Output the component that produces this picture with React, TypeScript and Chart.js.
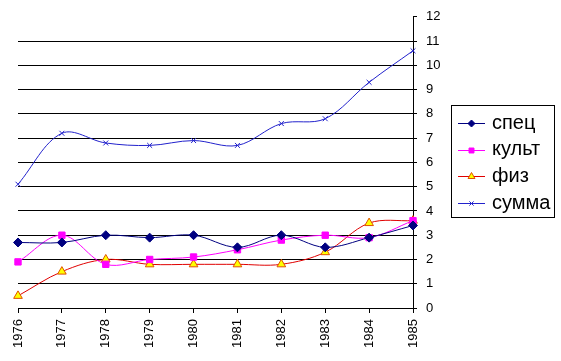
import React, { useEffect, useRef } from "react";
import { Chart, registerables } from "chart.js";
import { drawPoint } from "chart.js/helpers";

Chart.register(...registerables);

const years = ["1976", "1977", "1978", "1979", "1980", "1981", "1982", "1983", "1984", "1985"];
const spec = [2.7, 2.7, 3.0, 2.9, 3.0, 2.5, 3.0, 2.5, 2.9, 3.4];
const kult = [1.9, 3.0, 1.8, 2.0, 2.1, 2.4, 2.8, 3.0, 2.9, 3.6];
const fiz = [0.5, 1.5, 2.0, 1.8, 1.8, 1.8, 1.8, 2.3, 3.5, 3.6];
const summa = [5.1, 7.2, 6.8, 6.7, 6.9, 6.7, 7.6, 7.8, 9.3, 10.6];
const seriesNames = ["спец", "культ", "физ", "сумма"];

const FONT = "Arial, 'Liberation Sans', sans-serif";

const legendPlugin = {
  id: "boxLegend",
  afterDraw(chart: any) {
    const ctx = chart.ctx;
    ctx.save();
    ctx.strokeStyle = "#000";
    ctx.lineWidth = 1;
    ctx.strokeRect(451.5, 105.5, 103, 112);
    chart.data.datasets.forEach((ds: any, i: number) => {
      const y = 123 + i * 26.7;
      ctx.strokeStyle = ds.borderColor;
      ctx.lineWidth = 1;
      ctx.beginPath();
      ctx.moveTo(458, Math.round(y) + 0.5);
      ctx.lineTo(485, Math.round(y) + 0.5);
      ctx.stroke();
      ctx.fillStyle = ds.pointBackgroundColor;
      ctx.strokeStyle = ds.pointBorderColor;
      drawPoint(ctx, { pointStyle: ds.pointStyle, radius: ds.legendRadius, rotation: 0, borderWidth: 1 } as any, 471.5, Math.round(y) + 0.5);
      ctx.fillStyle = "#000";
      ctx.font = `20px ${FONT}`;
      ctx.textBaseline = "middle";
      ctx.textAlign = "left";
      ctx.fillText(ds.label, 492, y);
    });
    ctx.restore();
  },
};

export default function App() {
  const ref = useRef<HTMLCanvasElement>(null);
  useEffect(() => {
    if (!ref.current) return;
    const mk = (label: string, data: number[], line: string, fill: string, border: string, style: string, r: number, lr: number) => ({
      label,
      data,
      borderColor: line,
      backgroundColor: fill,
      pointBackgroundColor: fill,
      pointBorderColor: border,
      pointStyle: style,
      pointRadius: r,
      pointBorderWidth: 1,
      borderWidth: 1,
      tension: 0.35,
      legendRadius: lr,
    });
    const chart = new Chart(ref.current, {
      type: "line",
      data: {
        labels: years,
        datasets: [
          mk(seriesNames[0], spec, "#000080", "#000080", "#000080", "rectRot", 4.5, 3.5),
          mk(seriesNames[1], kult, "#FF00FF", "#FF00FF", "#FF00FF", "rect", 4.5, 3.5),
          mk(seriesNames[2], fiz, "#E00000", "#FFFF00", "#E05000", "triangle", 5, 4),
          mk(seriesNames[3], summa, "#2222CC", "#2222CC", "#2222CC", "crossRot", 3.5, 3),
        ] as any,
      },
      options: {
        responsive: false,
        animation: false,
        layout: { padding: { left: 18, top: 15, right: 0, bottom: 0 } },
        plugins: { legend: { display: false }, tooltip: { enabled: false } },
        scales: {
          x: {
            type: "category",
            offset: false,
            grid: { display: true, drawOnChartArea: false, drawTicks: true, tickLength: 5, color: "#000" },
            border: { display: true, color: "#000" },
            ticks: {
              color: "#000",
              font: { family: FONT, size: 13 },
              maxRotation: 90,
              minRotation: 90,
              padding: 6,
              autoSkip: false,
            },
            afterFit: (s: any) => { s.height = 53; },
          },
          y: {
            position: "right",
            min: 0,
            max: 12,
            grid: {
              color: (c: any) => (c.tick && c.tick.value === 12 ? "transparent" : "#000"),
              tickColor: "#000",
              tickLength: 4,
            },
            border: { display: true, color: "#000" },
            ticks: {
              stepSize: 1,
              color: "#000",
              font: { family: FONT, size: 13 },
              padding: 9,
            },
            afterFit: (s: any) => { s.width = 148; },
          },
        },
      },
      plugins: [legendPlugin],
    });
    return () => chart.destroy();
  }, []);
  return (
    <div style={{ position: "absolute", left: 0, top: 0, width: 561, height: 361, background: "#fff" }}>
      <canvas ref={ref} width={561} height={361} />
    </div>
  );
}
